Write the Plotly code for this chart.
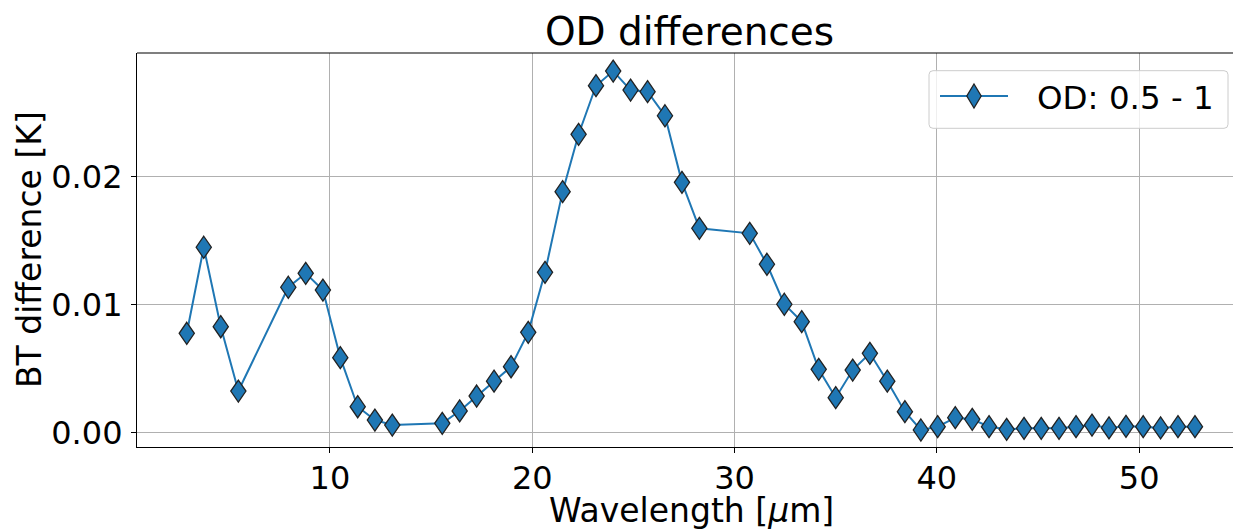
import plotly.graph_objects as go

# Wavelength channels [µm] and brightness-temperature differences [K]
wavelength = [2.92, 3.76, 4.60, 5.47, 7.94, 8.80, 9.65, 10.51, 11.37, 12.22, 13.08,
              15.55, 16.41, 17.25, 18.11, 18.95, 19.80, 20.63,
              21.50, 22.29, 23.15, 24.00, 24.86, 25.70, 26.56, 27.40, 28.26,
              30.75, 31.60, 32.46, 33.32, 34.16, 35.00, 35.84, 36.69, 37.55, 38.42,
              39.21, 40.04, 40.91, 41.75, 42.58, 43.45, 44.31, 45.16, 46.04, 46.88,
              47.67, 48.51, 49.35, 50.20, 51.06, 51.92, 52.76]
bt_diff = [0.00775, 0.01448, 0.00826, 0.00323, 0.01135, 0.01244, 0.01113, 0.00584,
           0.00200, 0.00096, 0.00057, 0.00070, 0.00167, 0.00284, 0.00400, 0.00513,
           0.00782, 0.01252,
           0.01883, 0.02332, 0.02712, 0.02827, 0.02678, 0.02665, 0.02477, 0.01956,
           0.01596, 0.01557, 0.01315, 0.01002, 0.00866, 0.00493, 0.00271, 0.00487,
           0.00618, 0.00400, 0.00161,
           0.00018, 0.00044, 0.00114, 0.00102, 0.00044, 0.00023, 0.00031, 0.00031,
           0.00031, 0.00044, 0.00057, 0.00034, 0.00047, 0.00044, 0.00034, 0.00044,
           0.00044]

series_name = "OD: 0.5 - 1"
x_ticks = [10, 20, 30, 40, 50]
y_ticks = [0.0, 0.01, 0.02]
y_ticktext = ["0.00", "0.01", "0.02"]

BLUE = "#1f77b4"
EDGE = "#222222"
FONT = "DejaVu Sans"


def diamond(w, h, dx=0.0, dy=0.0):
    """Thin diamond outline in pixel offsets around an anchor."""
    return (f"M{dx},{dy + h}L{dx + w},{dy}L{dx},{dy - h}L{dx - w},{dy}Z")


fig = go.Figure()

# connecting line
fig.add_trace(go.Scatter(
    x=wavelength, y=bt_diff, mode="lines",
    line=dict(color=BLUE, width=2),
    showlegend=False, hoverinfo="skip",
))

shapes = []
# thin-diamond markers, fixed pixel size, placed at each data point
for xv, yv in zip(wavelength, bt_diff):
    shapes.append(dict(
        type="path", xref="x", yref="y",
        xsizemode="pixel", ysizemode="pixel",
        xanchor=xv, yanchor=yv,
        path=diamond(7.6, 11.0),
        fillcolor=BLUE, line=dict(color=EDGE, width=1.3),
        layer="above",
    ))

# top spine
shapes.append(dict(type="line", xref="paper", yref="paper",
                   x0=0, x1=1, y0=1, y1=1,
                   line=dict(color="black", width=1.2), layer="above"))

# legend frame (rounded), anchored to the top-right corner of the plot area
L, R, T, B, r = -304, -5, -17.7, -75.3, 4
frame = (f"M{L + r},{T}L{R - r},{T}Q{R},{T} {R},{T - r}"
         f"L{R},{B + r}Q{R},{B} {R - r},{B}"
         f"L{L + r},{B}Q{L},{B} {L},{B + r}"
         f"L{L},{T - r}Q{L},{T} {L + r},{T}Z")
common = dict(xref="paper", yref="paper", xsizemode="pixel", ysizemode="pixel",
              xanchor=1, yanchor=1, layer="above")
shapes.append(dict(type="path", path=frame, fillcolor="rgba(255,255,255,0.8)",
                   line=dict(color="#cccccc", width=1), **common))
shapes.append(dict(type="path", path="M-293,-43L-225,-43",
                   line=dict(color=BLUE, width=2), **common))
shapes.append(dict(type="path", path=diamond(7.2, 12.0, -259, -43),
                   fillcolor=BLUE, line=dict(color=EDGE, width=1.3), **common))

annotations = [
    dict(text=series_name, xref="paper", yref="paper",
         x=0.8193, y=0.8858, xanchor="left", yanchor="middle",
         showarrow=False, font=dict(family=FONT, size=32.5, color="black")),
    dict(text="Wavelength [<i>μ</i>m]", xref="paper", yref="paper",
         x=0.5059, y=-0.160, xanchor="center", yanchor="middle",
         showarrow=False, font=dict(family=FONT, size=33, color="black")),
    dict(text="BT difference [K]", xref="paper", yref="paper",
         x=-0.0985, y=0.5, xanchor="center", yanchor="middle", textangle=-90,
         showarrow=False, font=dict(family=FONT, size=33, color="black")),
]

axis_common = dict(
    showline=True, linecolor="black", linewidth=1.2, mirror=False,
    ticks="outside", ticklen=5, tickwidth=1, tickcolor="black",
    showgrid=True, gridcolor="#b0b0b0", gridwidth=0.8, zeroline=False,
    tickfont=dict(family=FONT, size=32, color="black"),
)

fig.update_layout(
    width=1233, height=529,
    margin=dict(l=137, r=0, t=53, b=82, pad=0),
    paper_bgcolor="white", plot_bgcolor="white",
    title=dict(text="OD differences", x=689.5 / 1233, xanchor="center",
               y=1 - 31.5 / 529, yanchor="middle", xref="container", yref="container",
               font=dict(family=FONT, size=39, color="black")),
    xaxis=dict(range=[0.46, 54.64], tickvals=x_ticks, ticklabelstandoff=-3,
               **axis_common),
    yaxis=dict(range=[-0.00115, 0.02968], tickvals=y_ticks, ticktext=y_ticktext,
               ticklabelstandoff=2, **axis_common),
    shapes=shapes,
    annotations=annotations,
    showlegend=False,
)

fig.write_html("out.html")
